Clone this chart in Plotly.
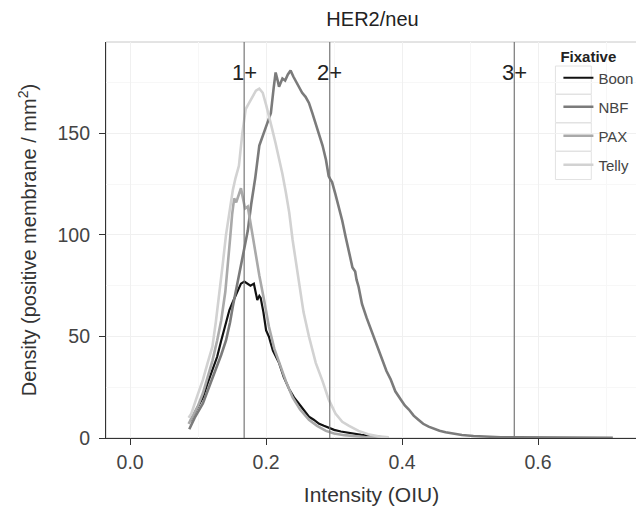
import plotly.graph_objects as go

# === Данные ===
boon_x = [0.088, 0.092, 0.100, 0.107, 0.114, 0.121, 0.128, 0.134, 0.140, 0.146, 0.151, 0.155, 0.160,
          0.163, 0.168, 0.172, 0.177, 0.182, 0.185, 0.187, 0.190, 0.192, 0.196, 0.200, 0.204, 0.210,
          0.219, 0.226, 0.234, 0.241, 0.248, 0.255, 0.263, 0.270, 0.278, 0.285, 0.292, 0.300, 0.310,
          0.320, 0.330, 0.340, 0.350, 0.360, 0.370]
boon_y = [8, 10.5, 15, 20, 27, 33, 40, 48, 56, 63, 67, 70, 74,
          76, 77, 76, 75, 76, 72, 68, 70, 69, 62, 53, 50, 43,
          37, 30, 24, 20, 17, 14, 10.5, 9, 7, 6, 5, 4, 3.2,
          2.6, 2, 1.5, 1.2, 0.8, 0.5]

nbf_x = [0.087, 0.095, 0.107, 0.116, 0.126, 0.134, 0.141, 0.147, 0.151, 0.156, 0.160, 0.164, 0.168,
         0.173, 0.178, 0.184, 0.190, 0.196, 0.202, 0.207, 0.211, 0.214, 0.217, 0.219, 0.224, 0.228,
         0.232, 0.236, 0.240, 0.243, 0.248, 0.253, 0.258, 0.263, 0.268, 0.273, 0.278, 0.283, 0.288,
         0.292, 0.295, 0.297, 0.302, 0.307, 0.312, 0.317, 0.322, 0.327, 0.331, 0.333, 0.336, 0.341,
         0.348, 0.356, 0.363, 0.371, 0.377, 0.383, 0.390, 0.398, 0.404, 0.410, 0.417, 0.424, 0.431,
         0.439, 0.447, 0.455, 0.464, 0.476, 0.488, 0.505, 0.522, 0.545, 0.570, 0.600, 0.630, 0.660,
         0.690, 0.710]
nbf_y = [4.3, 10, 17, 25, 33.5, 41, 48, 57, 64.7, 73, 81, 88, 94,
         102, 115, 128, 144, 150, 156, 160, 172, 180, 176, 173, 177, 176,
         179, 181, 178, 176, 173, 170, 168, 165, 160, 155, 150, 144, 137,
         129, 127, 126, 120, 114, 107, 99, 92, 84, 82, 78, 74.5, 66,
         59, 52, 45, 38, 33, 29, 23, 19, 16, 14, 11, 9, 7,
         5.6, 4.5, 3.6, 2.8, 2, 1.5, 1, 0.6, 0.4, 0.3, 0.2, 0.1, 0.1,
         0.1, 0.1]

pax_x = [0.086, 0.092, 0.100, 0.107, 0.114, 0.121, 0.128, 0.134, 0.140, 0.143, 0.147, 0.150, 0.153,
         0.156, 0.159, 0.163, 0.166, 0.169, 0.173, 0.176, 0.180, 0.185, 0.190, 0.197, 0.204, 0.212,
         0.219, 0.229, 0.239, 0.250, 0.263, 0.275, 0.288, 0.300, 0.315, 0.330, 0.345, 0.360, 0.380]
pax_y = [7, 11, 16, 22, 30, 38, 48, 58, 72, 85, 98, 110, 118,
         116, 119, 123, 118, 113, 114, 108, 98, 88, 80, 68, 55, 44,
         37, 28, 20, 14, 9, 6, 3.5, 2.2, 1.4, 0.9, 0.5, 0.3, 0.2]

telly_x = [0.086, 0.090, 0.098, 0.107, 0.114, 0.121, 0.126, 0.131, 0.136, 0.141, 0.146, 0.151, 0.155,
           0.160, 0.165, 0.170, 0.175, 0.180, 0.185, 0.190, 0.195, 0.200, 0.204, 0.209, 0.214, 0.219,
           0.224, 0.229, 0.234, 0.239, 0.248, 0.255, 0.263, 0.273, 0.283, 0.292, 0.302, 0.312, 0.322,
           0.336, 0.350, 0.365, 0.380]
telly_y = [10, 12, 20, 28.6, 37, 45, 57, 70, 85, 100, 112, 122, 128,
           134, 150, 162, 165, 168, 171, 172, 170, 164, 158, 152, 145, 138,
           130, 121, 111, 97.5, 78, 62, 50, 37, 28, 19, 12, 8, 6,
           3.5, 1.8, 0.8, 0.3]

fixatives = ["Boon", "NBF", "PAX", "Telly"]
colors = ["#111111", "#7b7b7b", "#a9a9a9", "#d2d2d2"]

cut_values = [0.1677, 0.2936, 0.5650]
cut_labels = ["1+", "2+", "3+"]

FONT = "Arial, Liberation Sans, sans-serif"

# Страница имеет отступ body 8px, поэтому фигура чуть меньше окна
W, H = 636, 504
ML, MR, MT, MB = 98, 5, 34, 74
PW, PH = W - ML - MR, H - MT - MB

fig = go.Figure()

series = [(boon_x, boon_y), (nbf_x, nbf_y), (pax_x, pax_y), (telly_x, telly_y)]
for name, color, (xs, ys) in zip(fixatives, colors, series):
    fig.add_trace(go.Scatter(
        x=xs, y=ys, mode="lines", name=name, legendgroup=name,
        line=dict(color=color, width=2.6 if name != "Boon" else 2.2),
    ))

# Пороговые линии 1+ / 2+ / 3+
for v, lab in zip(cut_values, cut_labels):
    fig.add_vline(x=v, line_color="#777777", line_width=1.2)
    fig.add_annotation(x=v, y=180, text=lab, showarrow=False,
                       font=dict(size=22, color="#222222", family=FONT))

# Рамка панели (светло-серая)
fig.add_shape(type="rect", xref="paper", yref="paper", x0=0, x1=1, y0=0, y1=1,
              line=dict(color="#c8c8c8", width=1), layer="below")

# Рамки ключей легенды (как в ggplot)
LEG_X = 0.852
key_left = ML + LEG_X * PW - 3
for i in range(len(fixatives)):
    cy = 72 + i * 28.5
    fig.add_shape(type="rect", xref="paper", yref="paper",
                  x0=(key_left - ML) / PW, x1=(key_left + 36 - ML) / PW,
                  y0=1 - (cy + 14 - MT) / PH, y1=1 - (cy - 14 - MT) / PH,
                  line=dict(color="#e2e2e2", width=1), fillcolor="white", layer="below")

fig.update_layout(
    width=W, height=H,
    margin=dict(l=ML, r=MR, t=MT, b=MB),
    paper_bgcolor="white", plot_bgcolor="white",
    font=dict(family=FONT, color="#333333"),
    title=dict(text="HER2/neu", x=(ML + PW / 2) / W, xanchor="center", y=1 - 11 / H, yanchor="middle",
               font=dict(size=20, color="#222222")),
    showlegend=True,
    legend=dict(
        title=dict(text="<b>Fixative</b>", font=dict(size=15, color="#222222"), side="top"),
        x=LEG_X, xanchor="left", y=1.0, yanchor="top",
        bgcolor="rgba(255,255,255,0)", font=dict(size=15, color="#444444"),
        traceorder="grouped", tracegroupgap=6.5, itemwidth=30,
    ),
    xaxis=dict(
        range=[-0.0355, 0.7455], tickvals=[0, 0.2, 0.4, 0.6],
        ticktext=["0.0", "0.2", "0.4", "0.6"], automargin=False,
        showgrid=True, gridcolor="#f0f0f0", gridwidth=1,
        minor=dict(tickvals=[0.1, 0.3, 0.5, 0.7], showgrid=True, gridcolor="#f7f7f7"),
        zeroline=False, showline=True, linecolor="#333333", linewidth=1.2,
        ticks="outside", ticklen=6, tickcolor="#333333",
        tickfont=dict(size=19.5, color="#444444"),
        title=dict(text="Intensity (OIU)", font=dict(size=21, color="#333333")),
    ),
    yaxis=dict(
        range=[0, 195], tickvals=[0, 50, 100, 150], automargin=False,
        showgrid=True, gridcolor="#f0f0f0", gridwidth=1,
        minor=dict(tickvals=[25, 75, 125, 175], showgrid=True, gridcolor="#f7f7f7"),
        zeroline=False, showline=True, linecolor="#333333", linewidth=1.2,
        ticks="outside", ticklen=6, tickcolor="#333333", ticklabelstandoff=5,
        tickfont=dict(size=19.5, color="#444444"),
        title=dict(text="Density (positive membrane / mm<sup>2</sup>)",
                   font=dict(size=20, color="#333333")),
    ),
)

fig.write_html("out.html")
